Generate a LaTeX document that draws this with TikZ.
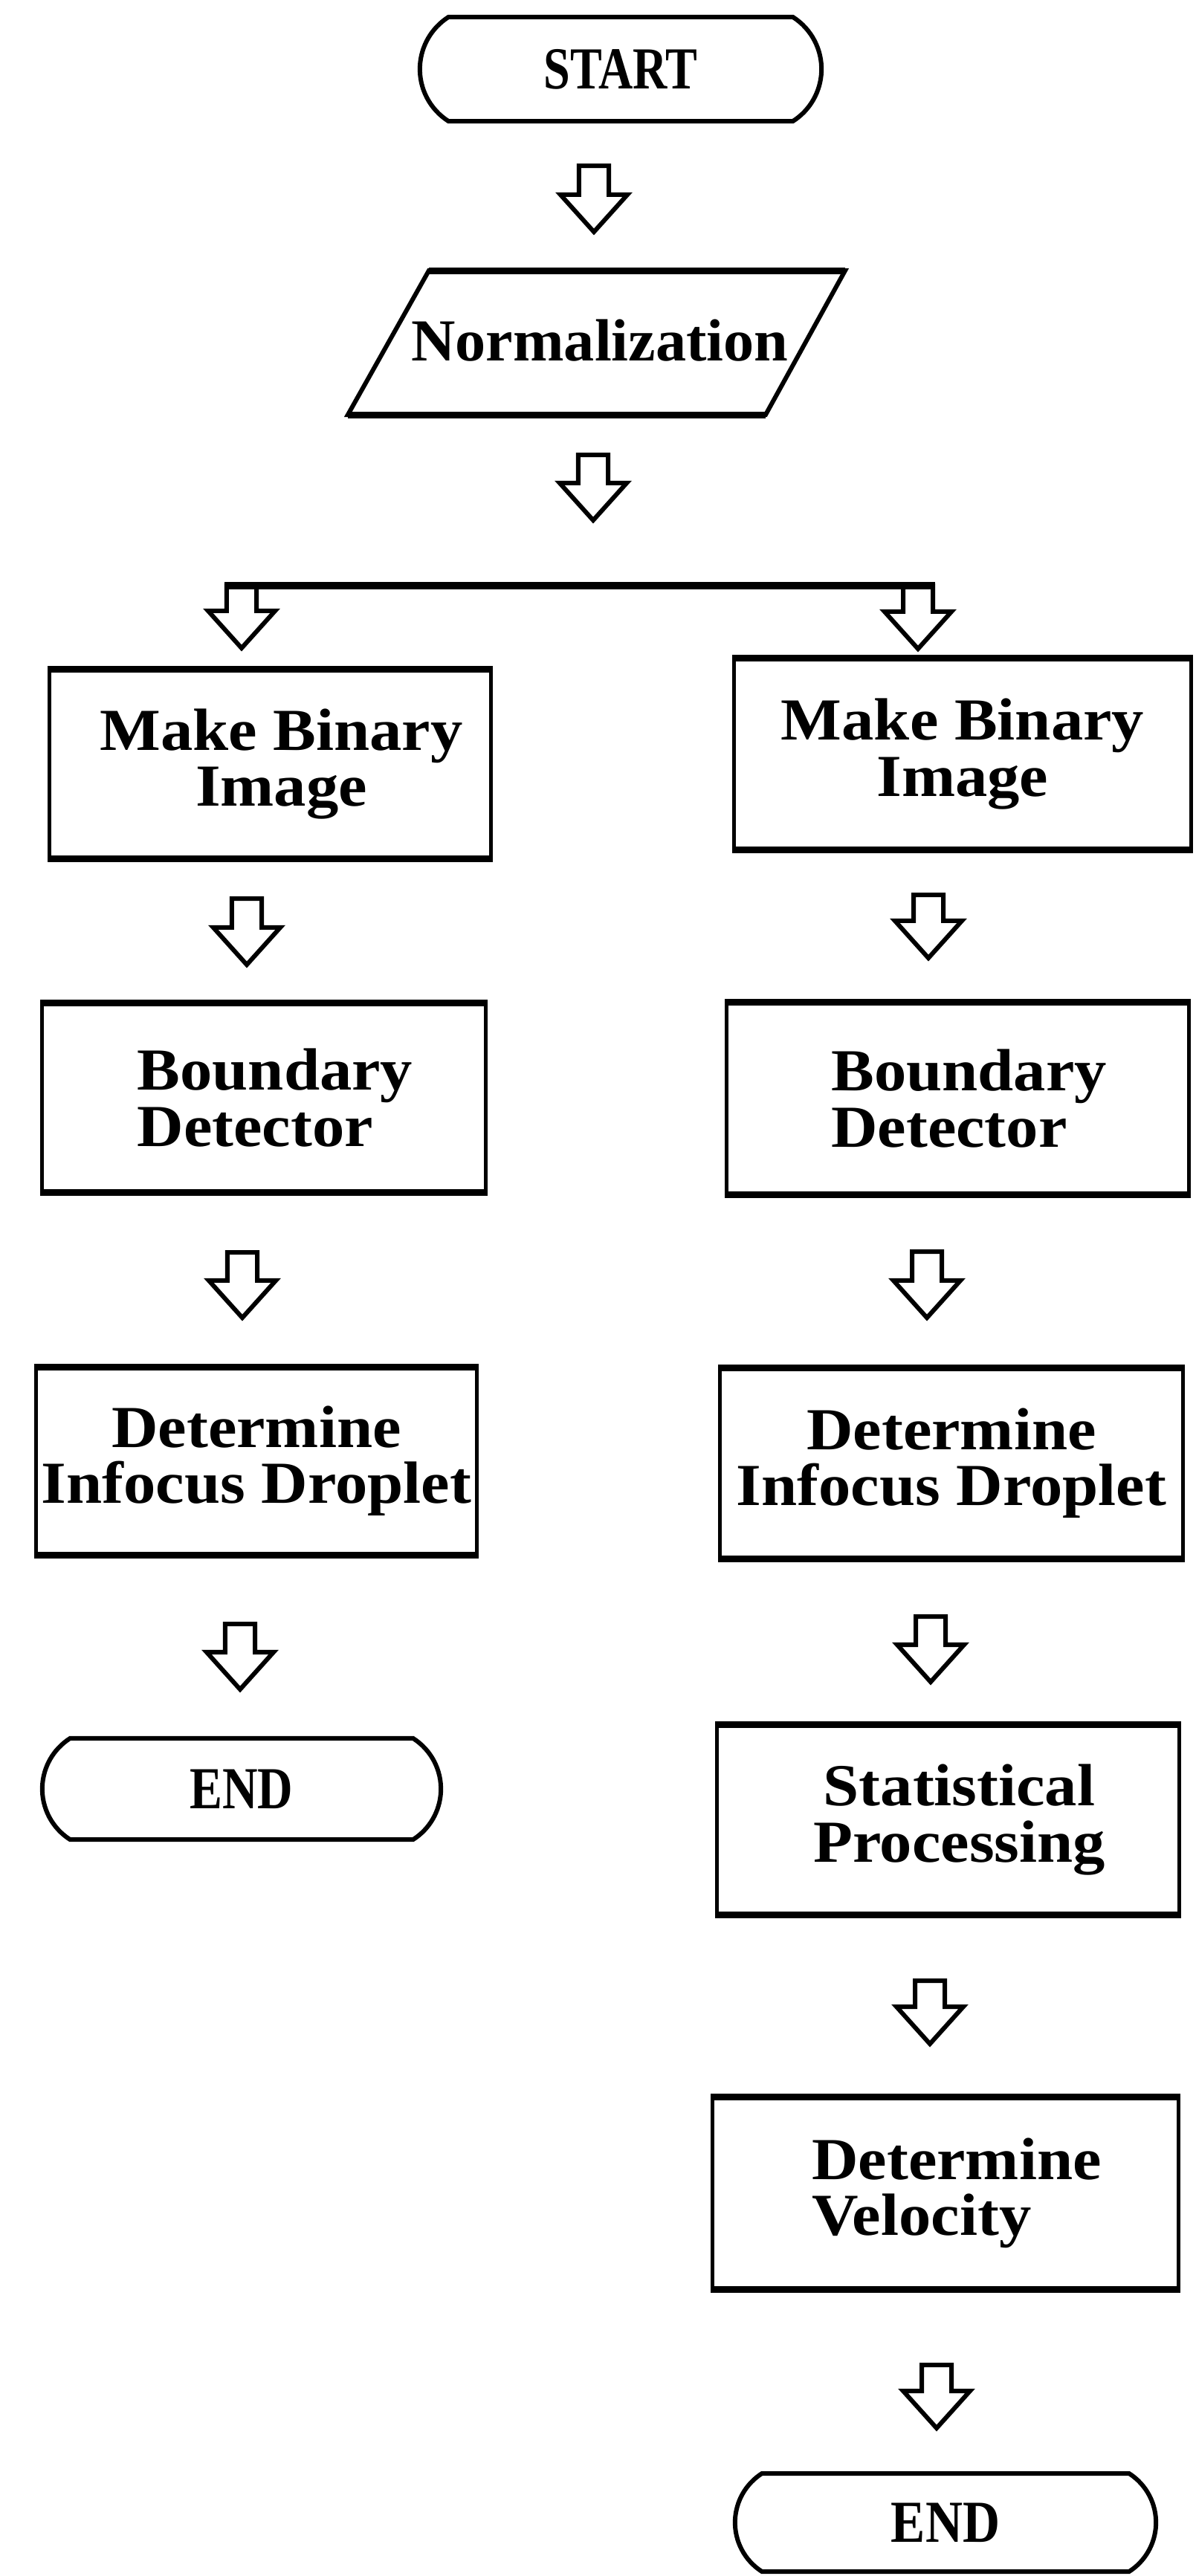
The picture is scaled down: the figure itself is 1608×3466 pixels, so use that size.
\documentclass[tikz,border=0pt]{standalone}
\usepackage{fontspec}
\setmainfont{Liberation Serif}[FakeStretch=1.08]
\usetikzlibrary{shapes.misc,calc}
\newcommand{\padl}{\hspace*{0.3cm}}
\begin{document}
\begin{tikzpicture}[x=0.01cm,y=-0.01cm,
  lbl/.style={font=\bfseries\fontsize{22.8pt}{21.4pt}\selectfont},
  box/.style={draw,line width=0.05cm,rectangle,inner sep=0pt,lbl},
  term/.style={draw,line width=0.06cm,rounded rectangle,rounded rectangle arc length=115,inner sep=0pt,lbl},
  blockarrow/.style={line width=0.06cm, line join=miter, to path={let \p1=(\tikztostart), \p2=(\tikztotarget) in
     (\x1-0.2cm,\y1) -- (\x1+0.2cm,\y1) -- (\x1+0.2cm,\y2+0.5cm) -- (\x1+0.45cm,\y2+0.5cm) -- (\x1,\y2)
     -- (\x1-0.45cm,\y2+0.5cm) -- (\x1-0.2cm,\y2+0.5cm) -- cycle}},
  heavy/.style={line width=0.09cm}]
\fill[white] (0,0) rectangle (1608,3466);
\useasboundingbox (0,0) rectangle (1608,3466);

% top part
\node[term, minimum width=5.40cm, minimum height=1.40cm] (start) at (835,93) {\scalebox{0.74}[1]{START}};
\node[lbl, inner sep=0pt] (norm) at (807,458) {\scalebox{0.95}[1]{Normalization}};
\draw[line width=0.06cm] (577,364) -- (1137,364) -- (1030,558) -- (468,558) -- cycle;
\draw[heavy] (577,364) -- (1137,364) (468,558) -- (1030,558);

% left column
\node[box, align=center, minimum width=5.93cm, minimum height=2.50cm] (mbl) at (363.5,1028) {\padl Make Binary\\\padl Image};
\node[box, align=left,   minimum width=5.96cm, minimum height=2.50cm] (bdl) at (355,1477) {\padl Boundary\\\padl Detector};
\node[box, align=center, minimum width=5.92cm, minimum height=2.48cm] (dil) at (345,1966) {Determine\\Infocus Droplet};
\node[term, minimum width=5.36cm, minimum height=1.36cm] (endl) at (325,2407) {\scalebox{0.76}[1]{END}};

% right column
\node[box, align=center, minimum width=6.14cm, minimum height=2.53cm] (mbr) at (1295,1014.5) {Make Binary\\Image};
\node[box, align=left,   minimum width=6.21cm, minimum height=2.54cm] (bdr) at (1288.5,1478) {\padl Boundary\\\padl Detector};
\node[box, align=center, minimum width=6.22cm, minimum height=2.52cm] (dir) at (1280,1969) {Determine\\Infocus Droplet};
\node[box, align=center, minimum width=6.21cm, minimum height=2.51cm] (spr) at (1275.5,2448.5) {\padl Statistical\\\padl Processing};
\node[box, align=left,   minimum width=6.26cm, minimum height=2.54cm] (dvr) at (1272,2951) {\padl Determine\\\padl Velocity};
\node[term, minimum width=5.66cm, minimum height=1.32cm] (endr) at (1272,3394) {\scalebox{0.8}[1]{END}};

\foreach \n in {mbl,bdl,dil,mbr,bdr,dir,spr,dvr}
  \draw[heavy] (\n.north west) -- (\n.north east) (\n.south west) -- (\n.south east);

% arrow end points
\coordinate (a1t) at (799,223);  \coordinate (a1b) at (799,312);
\coordinate (a2t) at (798,612);  \coordinate (a2b) at (798,700);
\coordinate (splitl) at (302,788); \coordinate (splitr) at (1258,788);
\coordinate (bLt) at (325,788);  \coordinate (bLb) at (325,872);
\coordinate (bRt) at (1235,788); \coordinate (bRb) at (1235,873);
\coordinate (l2t) at (332,1209); \coordinate (l2b) at (332,1298);
\coordinate (l3t) at (326,1685); \coordinate (l3b) at (326,1773);
\coordinate (l4t) at (323,2185); \coordinate (l4b) at (323,2273);
\coordinate (r2t) at (1249,1204); \coordinate (r2b) at (1249,1289);
\coordinate (r3t) at (1247,1684); \coordinate (r3b) at (1247,1773);
\coordinate (r4t) at (1252,2175); \coordinate (r4b) at (1252,2263);
\coordinate (r5t) at (1251,2665); \coordinate (r5b) at (1251,2750);
\coordinate (r6t) at (1260,3182); \coordinate (r6b) at (1260,3267);

\draw[line width=0.1cm] (splitl) -- (splitr);
\foreach \a in {a1,a2,bL,bR,l2,l3,l4,r2,r3,r4,r5,r6}
  \draw[blockarrow] (\a t) to (\a b);
\end{tikzpicture}
\end{document}
